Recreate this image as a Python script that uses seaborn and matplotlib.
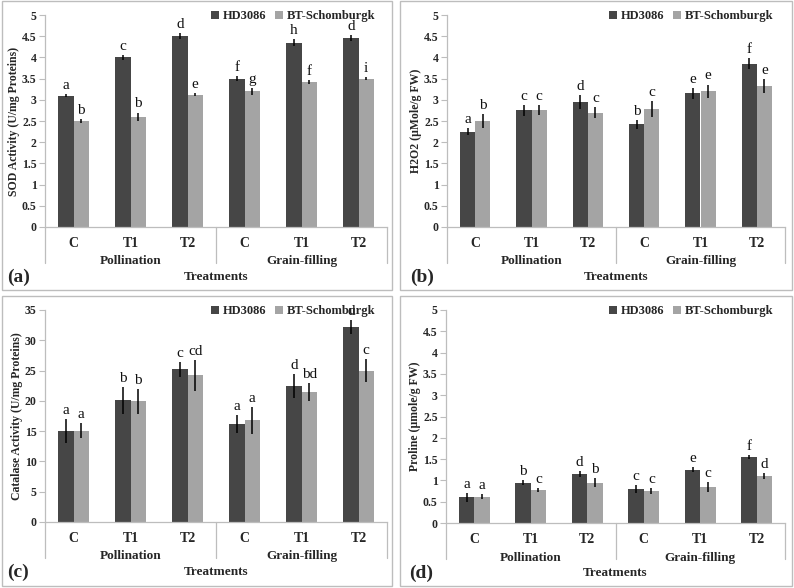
import numpy as np
import pandas as pd
import matplotlib
matplotlib.use("Agg")
import matplotlib.pyplot as plt
from matplotlib.patches import Rectangle
import seaborn as sns

sns.set_theme(style="white")
plt.rcParams['font.family'] = ['Liberation Serif', 'DejaVu Serif']

categories = ["C", "T1", "T2", "C", "T1", "T2"]
stages = ["Pollination", "Grain-filling"]
series = ["HD3086", "BT-Schomburgk"]

sod_hd = [3.10, 4.00, 4.50, 3.50, 4.35, 4.45]
sod_bt = [2.50, 2.60, 3.12, 3.20, 3.42, 3.50]
sod_hd_err = [0.03, 0.05, 0.07, 0.05, 0.08, 0.07]
sod_bt_err = [0.04, 0.10, 0.04, 0.08, 0.05, 0.04]
sod_hd_let = ["a", "c", "d", "f", "h", "d"]
sod_bt_let = ["b", "b", "e", "g", "f", "i"]

h2o2_hd = [2.25, 2.75, 2.95, 2.42, 3.15, 3.85]
h2o2_bt = [2.50, 2.75, 2.70, 2.78, 3.20, 3.33]
h2o2_hd_err = [0.09, 0.13, 0.16, 0.10, 0.12, 0.13]
h2o2_bt_err = [0.16, 0.12, 0.14, 0.19, 0.16, 0.16]
h2o2_hd_let = ["a", "c", "d", "b", "e", "f"]
h2o2_bt_let = ["b", "c", "c", "c", "e", "e"]

cat_hd = [15.0, 20.1, 25.2, 16.2, 22.5, 32.2]
cat_bt = [15.1, 19.9, 24.2, 16.8, 21.5, 25.0]
cat_hd_err = [2.0, 2.2, 1.2, 1.5, 2.0, 1.2]
cat_bt_err = [1.3, 2.0, 2.5, 2.2, 1.5, 1.9]
cat_hd_let = ["a", "b", "c", "a", "d", "d"]
cat_bt_let = ["a", "b", "cd", "a", "bd", "c"]

pro_hd = [0.60, 0.95, 1.15, 0.80, 1.25, 1.55]
pro_bt = [0.62, 0.78, 0.95, 0.76, 0.85, 1.10]
pro_hd_err = [0.10, 0.05, 0.06, 0.10, 0.06, 0.05]
pro_bt_err = [0.06, 0.05, 0.10, 0.07, 0.12, 0.07]
pro_hd_let = ["a", "b", "d", "c", "e", "f"]
pro_bt_let = ["a", "c", "b", "c", "c", "d"]

colors = ["#464646", "#a4a4a4"]
W, H = 794, 588

fig = plt.figure(figsize=(W / 100, H / 100), dpi=100)

panels = [
    dict(tag="(a)", ylabel="SOD Activity (U/mg Proteins)", hd=sod_hd, bt=sod_bt,
         hde=sod_hd_err, bte=sod_bt_err, hdl=sod_hd_let, btl=sod_bt_let,
         ymax=5, step=0.5, box=(2, 1, 392, 290), ax=(45, 15, 387, 227)),
    dict(tag="(b)", ylabel="H2O2 (\u00b5Mole/g FW)", hd=h2o2_hd, bt=h2o2_bt,
         hde=h2o2_hd_err, bte=h2o2_bt_err, hdl=h2o2_hd_let, btl=h2o2_bt_let,
         ymax=5, step=0.5, box=(400, 1, 792, 290), ax=(447, 15, 785, 227)),
    dict(tag="(c)", ylabel="Catalase Activity (U/mg Proteins)", hd=cat_hd, bt=cat_bt,
         hde=cat_hd_err, bte=cat_bt_err, hdl=cat_hd_let, btl=cat_bt_let,
         ymax=35, step=5, box=(2, 296, 392, 586), ax=(45, 310, 387, 522)),
    dict(tag="(d)", ylabel="Proline (\u00b5mole/g FW)", hd=pro_hd, bt=pro_bt,
         hde=pro_hd_err, bte=pro_bt_err, hdl=pro_hd_let, btl=pro_bt_let,
         ymax=5, step=0.5, box=(400, 296, 792, 586), ax=(446, 310, 785, 523)),
]

for p in panels:
    bx0, by0, bx1, by1 = p["box"]
    fig.patches.append(Rectangle((bx0 / W, 1 - by1 / H), (bx1 - bx0) / W, (by1 - by0) / H,
                                 transform=fig.transFigure, fill=False,
                                 edgecolor="#bdbdbd", lw=1.0))
    x0, y0, x1, y1 = p["ax"]
    ax = fig.add_axes([x0 / W, 1 - y1 / H, (x1 - x0) / W, (y1 - y0) / H])

    keys = [f"{s}-{c}-{i}" for i, (s, c) in enumerate(zip([stages[0]] * 3 + [stages[1]] * 3, categories))]
    df = pd.DataFrame({
        "key": keys * 2,
        "value": p["hd"] + p["bt"],
        "series": [series[0]] * 6 + [series[1]] * 6,
    })
    sns.barplot(data=df, x="key", y="value", hue="series", order=keys,
                hue_order=series, palette=colors, errorbar=None, width=0.54,
                gap=0.0, saturation=1, ax=ax, linewidth=0)

    bars = [b for b in ax.patches if b.get_height() > 0][:12]
    errs = p["hde"] + p["bte"]
    lets = p["hdl"] + p["btl"]
    vals = p["hd"] + p["bt"]
    for b, v, e, l in zip(bars, vals, errs, lets):
        cx = b.get_x() + b.get_width() / 2
        ax.errorbar(cx, v, yerr=e, fmt="none", ecolor="black", elinewidth=1.1, capsize=0)
        ax.annotate(l, (cx, v + e), xytext=(0, 1.5), textcoords="offset points",
                    ha="center", va="bottom", fontsize=11, color="#111111")

    ax.set_xlim(-0.5, 5.5)
    ax.set_ylim(0, p["ymax"])
    ticks = np.arange(0, p["ymax"] + 1e-9, p["step"])
    ax.set_yticks(ticks)
    ax.set_yticklabels([f"{t:g}" for t in ticks], fontsize=8.5, fontweight="bold")
    ax.tick_params(axis="y", which="both", left=True, length=4, color="#bdbdbd",
                   width=0.8, pad=2)
    ax.set_xticks([])
    ax.set_xlabel("")
    ax.set_ylabel(p["ylabel"], fontsize=8.5, fontweight="bold", labelpad=1.5)
    for s in ["top", "right"]:
        ax.spines[s].set_visible(False)
    for s in ["left", "bottom"]:
        ax.spines[s].set_color("#bdbdbd")
        ax.spines[s].set_linewidth(0.9)
    ax.set_facecolor("white")

    trans = ax.get_xaxis_transform()
    for i, c in enumerate(categories):
        ax.text(i, -0.078, c, transform=trans, ha="center", va="center",
                fontsize=10, fontweight="bold")
    ax.text(1, -0.162, stages[0], transform=trans, ha="center", va="center",
            fontsize=9.5, fontweight="bold")
    ax.text(4, -0.162, stages[1], transform=trans, ha="center", va="center",
            fontsize=9.5, fontweight="bold")
    for xs in [-0.5, 2.5, 5.5]:
        ax.plot([xs, xs], [0, -0.17], transform=trans, color="#bdbdbd", lw=0.9,
                clip_on=False)
    ax.text(0.5, -0.236, "Treatments", transform=ax.transAxes, ha="center",
            va="center", fontsize=9.5, fontweight="bold")
    ax.text(-0.11, -0.236, p["tag"], transform=ax.transAxes, ha="left",
            va="center", fontsize=14, fontweight="bold")

    ax.legend(loc="upper right", bbox_to_anchor=(1.0, 1.075), ncol=2,
              frameon=False, handlelength=0.65, handleheight=0.65,
              handletextpad=0.3, columnspacing=0.7,
              prop={"weight": "bold", "size": 9})

fig.savefig("out.png", dpi=100, facecolor="white")
